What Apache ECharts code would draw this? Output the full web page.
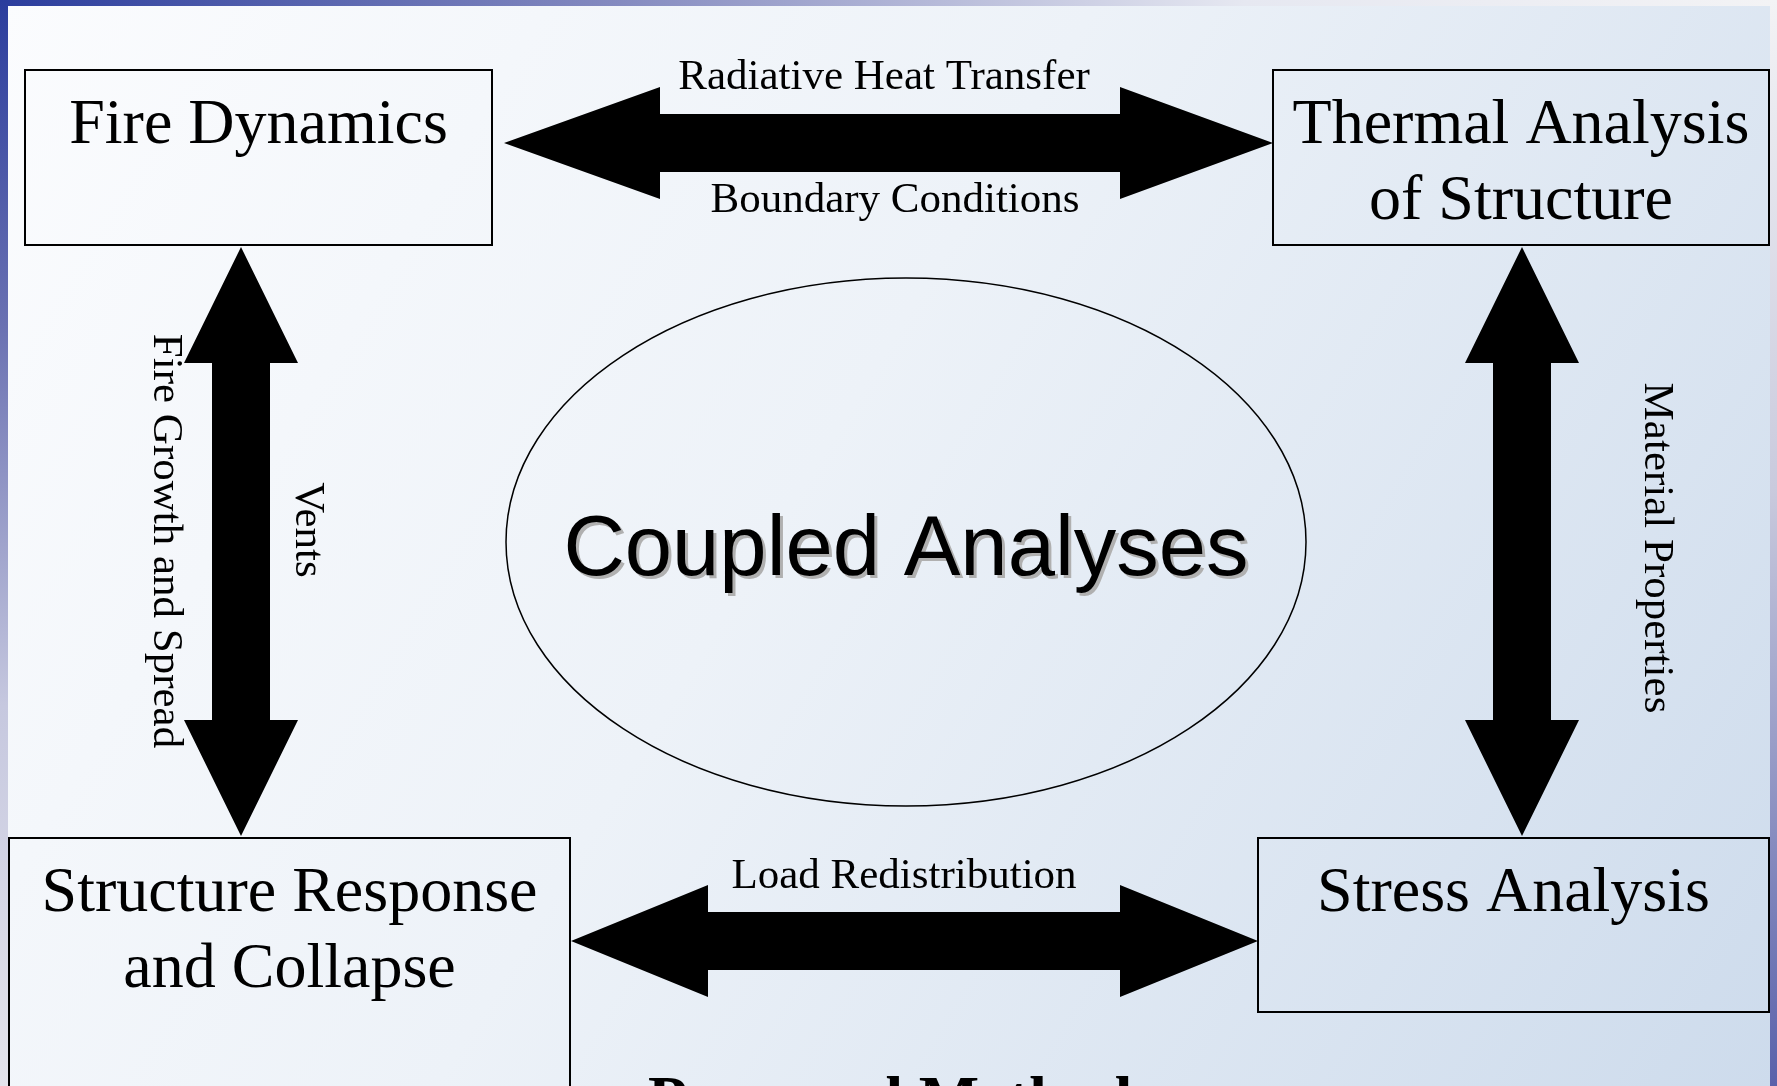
<!DOCTYPE html>
<html>
<head>
<meta charset="utf-8">
<script src="https://cdn.jsdelivr.net/npm/echarts/dist/echarts.min.js"></script>
<style>
html,body{margin:0;padding:0;background:#ffffff;}
#chart{width:1777px;height:1086px;}
</style>
</head>
<body>
<div id="chart"></div>
<script>
// ---------------- data ----------------
const boxLabels = ['Fire Dynamics', 'Thermal Analysis\nof Structure', 'Stress Analysis', 'Structure Response\nand Collapse'];
const links = [[0, 1], [3, 2], [0, 3], [1, 2]];          // box index pairs joined by double arrows
const linkLabels = ['Radiative Heat Transfer', 'Boundary Conditions', 'Material Properties', 'Load Redistribution', 'Vents', 'Fire Growth and Spread'];
const hubLabel = ['Coupled Analyses'];
const footerLabel = ['Proposed Method'];

// ---------------- layout (diagram units = pixels of a 1777 x 1086 canvas) ----------------
const W = 1777, H = 1086;
const BOX_LAYOUT = [
  { x0: 25,   y0: 70,  x1: 492,  y1: 245 },
  { x0: 1273, y0: 70,  x1: 1769, y1: 245 },
  { x0: 1258, y0: 838, x1: 1769, y1: 1012 },
  { x0: 9,    y0: 838, x1: 570,  y1: 1120 }
];
const BOX_FONT = 64, BOX_FIRST_BASELINE = 78, BOX_LINE_HEIGHT = 76;
const ARROW_LAYOUT = [
  { dir: 'h', a: 504, b: 1273, c: 143, headA: 156, headB: 153, half: 56, shaft: 29 },
  { dir: 'h', a: 571, b: 1258, c: 941, headA: 137, headB: 138, half: 56, shaft: 29 },
  { dir: 'v', a: 247, b: 836,  c: 241, headA: 116, headB: 116, half: 57, shaft: 29 },
  { dir: 'v', a: 247, b: 836,  c: 1522, headA: 116, headB: 116, half: 57, shaft: 29 }
];
const LABEL_LAYOUT = [
  { x: 884,  y: 92,  rot: 0 },
  { x: 895,  y: 215, rot: 0 },
  { x: 1656, y: 548, rot: -90 },
  { x: 904,  y: 891, rot: 0 },
  { x: 307,  y: 530, rot: -90 },
  { x: 165,  y: 541, rot: -90 }
];
const LABEL_FONT = 43;
const HUB_LAYOUT = { cx: 906, cy: 542, rx: 400, ry: 264, baseline: 581, font: 85 };
const FOOTER_LAYOUT = { x: 890, baseline: 1125, font: 64 };

const SERIF = '"Liberation Serif", "Times New Roman", serif';
const SANS = '"Liberation Sans", Arial, sans-serif';
const MID_SERIF = 0.3375, MID_SANS = 0.3465; // offset of em-middle above alphabetic baseline

function textEl(api, x, baselineY, txt, size, family, opts) {
  opts = opts || {};
  const mid = family === SANS ? MID_SANS : MID_SERIF;
  const p = api.coord([x, baselineY - mid * size]);
  return {
    type: 'text',
    x: p[0] + (opts.dx || 0), y: p[1] + (opts.dy || 0),
    silent: true,
    style: {
      text: txt, x: 0, y: 0,
      fill: opts.fill || '#000',
      font: (opts.weight ? opts.weight + ' ' : '') + size + 'px ' + family,
      align: 'center', verticalAlign: 'middle',
      textAlign: 'center', textVerticalAlign: 'middle'
    }
  };
}

function renderBox(params, api) {
  const i = params.dataIndex, b = BOX_LAYOUT[i];
  const p0 = api.coord([b.x0, b.y0]), p1 = api.coord([b.x1, b.y1]);
  const children = [{
    type: 'rect',
    shape: { x: p0[0], y: p0[1], width: p1[0] - p0[0], height: p1[1] - p0[1] },
    style: { fill: 'rgba(0,0,0,0)', stroke: '#000', lineWidth: 2 }
  }];
  const cx = (b.x0 + b.x1) / 2;
  boxLabels[i].split('\n').forEach(function (line, k) {
    children.push(textEl(api, cx, b.y0 + BOX_FIRST_BASELINE + k * BOX_LINE_HEIGHT, line, BOX_FONT, SERIF));
  });
  return { type: 'group', children: children };
}

function renderArrow(params, api) {
  const a = ARROW_LAYOUT[params.dataIndex];
  let pts;
  if (a.dir === 'h') {
    const x1 = a.a, x2 = a.b, y = a.c;
    pts = [[x1, y], [x1 + a.headA, y - a.half], [x1 + a.headA, y - a.shaft], [x2 - a.headB, y - a.shaft],
           [x2 - a.headB, y - a.half], [x2, y], [x2 - a.headB, y + a.half], [x2 - a.headB, y + a.shaft],
           [x1 + a.headA, y + a.shaft], [x1 + a.headA, y + a.half]];
  } else {
    const y1 = a.a, y2 = a.b, x = a.c;
    pts = [[x, y1], [x + a.half, y1 + a.headA], [x + a.shaft, y1 + a.headA], [x + a.shaft, y2 - a.headB],
           [x + a.half, y2 - a.headB], [x, y2], [x - a.half, y2 - a.headB], [x - a.shaft, y2 - a.headB],
           [x - a.shaft, y1 + a.headA], [x - a.half, y1 + a.headA]];
  }
  return { type: 'polygon', shape: { points: pts.map(function (p) { return api.coord(p); }) }, style: { fill: '#000' } };
}

function renderLinkLabel(params, api) {
  const i = params.dataIndex, l = LABEL_LAYOUT[i];
  if (l.rot === 0) {
    return textEl(api, l.x, l.y, linkLabels[i], LABEL_FONT, SERIF);
  }
  const p = api.coord([l.x, l.y]);
  return {
    type: 'text', x: p[0], y: p[1], rotation: l.rot * Math.PI / 180, silent: true,
    style: {
      text: linkLabels[i], x: 0, y: 0, fill: '#000', font: LABEL_FONT + 'px ' + SERIF,
      align: 'center', verticalAlign: 'middle', textAlign: 'center', textVerticalAlign: 'middle'
    }
  };
}

function renderHub(params, api) {
  const h = HUB_LAYOUT;
  const c = api.coord([h.cx, h.cy]);
  const r = api.size([h.rx, h.ry]);
  return {
    type: 'group',
    children: [
      { type: 'ellipse', shape: { cx: c[0], cy: c[1], rx: r[0], ry: r[1] }, style: { fill: 'rgba(0,0,0,0)', stroke: '#000', lineWidth: 1.5 } },
      textEl(api, h.cx, h.baseline, hubLabel[params.dataIndex], h.font, SANS, { dx: 3, dy: 3, fill: '#b0b0b0' }),
      textEl(api, h.cx, h.baseline, hubLabel[params.dataIndex], h.font, SANS)
    ]
  };
}

function renderFooter(params, api) {
  const f = FOOTER_LAYOUT;
  return textEl(api, f.x, f.baseline, footerLabel[params.dataIndex], f.font, SERIF, { weight: 'bold' });
}

const idx = function (arr) { return arr.map(function (_, i) { return [i]; }); };

const chart = echarts.init(document.getElementById('chart'), null, { renderer: 'canvas' });
chart.setOption({
  animation: false,
  backgroundColor: '#ffffff',
  graphic: [
    { type: 'rect', z: -10, silent: true, shape: { x: 0, y: 0, width: W, height: H },
      style: { fill: { type: 'linear', x: 0, y: 0, x2: 1, y2: 1, colorStops: [
        { offset: 0, color: '#fbfcfe' }, { offset: 0.45, color: '#edf2f8' }, { offset: 1, color: '#cddbec' }] } } },
    { type: 'rect', z: -9, silent: true, shape: { x: 0, y: 0, width: W, height: 6 },
      style: { fill: { type: 'linear', x: 0, y: 0, x2: 1, y2: 0, colorStops: [
        { offset: 0, color: '#2b3d9d' }, { offset: 0.35, color: '#858bc0' }, { offset: 0.7, color: '#e6e8f1' }, { offset: 1, color: '#f3f3f5' }] } } },
    { type: 'rect', z: -8, silent: true, shape: { x: 0, y: 0, width: 8, height: H },
      style: { fill: { type: 'linear', x: 0, y: 0, x2: 0, y2: 1, colorStops: [
        { offset: 0, color: '#2b3d9d' }, { offset: 0.3, color: '#6a71b2' }, { offset: 0.65, color: '#c6c8df' }, { offset: 1, color: '#e4e4ec' }] } } },
    { type: 'rect', z: -8, silent: true, shape: { x: 1770, y: 0, width: 7, height: H },
      style: { fill: { type: 'linear', x: 0, y: 0, x2: 0, y2: 1, colorStops: [
        { offset: 0, color: '#f3f3f5' }, { offset: 0.45, color: '#c9cadd' }, { offset: 1, color: '#5961aa' }] } } }
  ],
  grid: { left: 0, right: 0, top: 0, bottom: 0 },
  xAxis: { type: 'value', min: 0, max: W, show: false },
  yAxis: { type: 'value', min: 0, max: H, inverse: true, show: false },
  series: [
    { type: 'custom', name: 'hub', clip: false, data: idx(hubLabel), renderItem: renderHub, z: 3 },
    { type: 'custom', name: 'links', clip: false, data: idx(links), renderItem: renderArrow, z: 4 },
    { type: 'custom', name: 'linkLabels', clip: false, data: idx(linkLabels), renderItem: renderLinkLabel, z: 5 },
    { type: 'custom', name: 'boxes', clip: false, data: idx(boxLabels), renderItem: renderBox, z: 6 },
    { type: 'custom', name: 'footer', clip: false, data: idx(footerLabel), renderItem: renderFooter, z: 6 }
  ]
});
</script>
</body>
</html>
